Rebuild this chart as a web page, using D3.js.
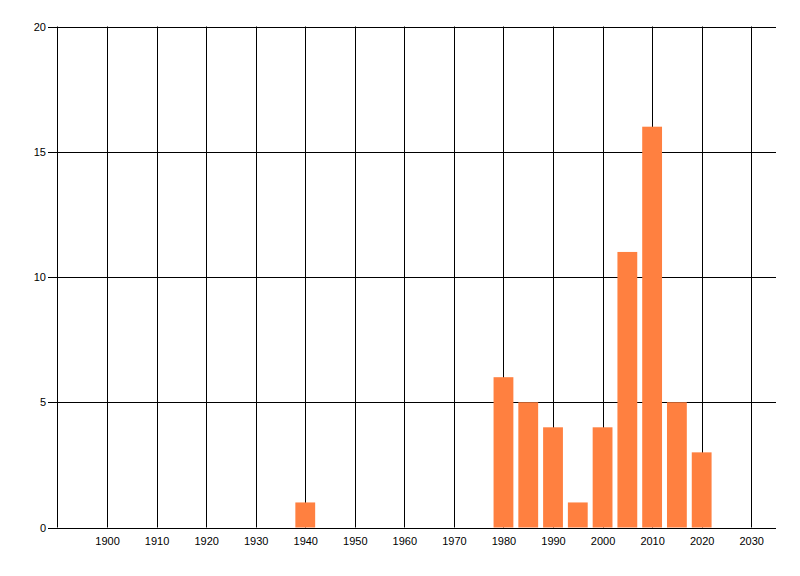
<!DOCTYPE html>
<html><head><meta charset="utf-8">
<script src="https://cdn.jsdelivr.net/npm/d3@7"></script>
<style>body{margin:0;background:#fff}svg{display:block}</style>
</head><body>
<svg id="c" width="800" height="576"></svg>
<script>
const years = [1940, 1980, 1985, 1990, 1995, 2000, 2005, 2010, 2015, 2020];
const counts = [1, 6, 5, 4, 1, 4, 11, 16, 5, 3];
const xTicks = [1900, 1910, 1920, 1930, 1940, 1950, 1960, 1970, 1980, 1990, 2000, 2010, 2020, 2030];
const yTicks = [0, 5, 10, 15, 20];

(function () {
const svg = d3.select("#c");
const mLeft = 57.5, mRight = 776, mTop = 26.5, mBottom = 527.5;
const x = d3.scaleLinear().domain([1890, 2035]).range([mLeft, mRight]);
const y = d3.scaleLinear().domain([0, 20]).range([mBottom, mTop]);
const barW = 4;
const font = "'Liberation Sans', Arial, sans-serif";

svg.append("g").selectAll("line").data(yTicks).join("line")
  .attr("x1", 48).attr("x2", mRight)
  .attr("y1", d => Math.round(y(d)) + 0.5).attr("y2", d => Math.round(y(d)) + 0.5)
  .attr("stroke", "#000").attr("stroke-width", 1);

svg.append("g").selectAll("line").data(xTicks).join("line")
  .attr("x1", d => Math.round(x(d)) + 0.5).attr("x2", d => Math.round(x(d)) + 0.5)
  .attr("y1", mTop).attr("y2", mBottom)
  .attr("stroke", "#000").attr("stroke-width", 1);

svg.append("line").attr("x1", mLeft).attr("x2", mLeft).attr("y1", mTop).attr("y2", mBottom)
  .attr("stroke", "#000");

svg.append("g").selectAll("rect").data(years.map((yr, i) => ({yr, v: counts[i]}))).join("rect")
  .attr("x", d => x(d.yr - barW / 2))
  .attr("width", d => x(d.yr + barW / 2) - x(d.yr - barW / 2))
  .attr("y", d => y(d.v))
  .attr("height", d => y(0) - y(d.v))
  .attr("fill", "#FF8040");

svg.append("line").attr("x1", 48).attr("x2", mRight)
  .attr("y1", Math.round(y(0)) + 0.5).attr("y2", Math.round(y(0)) + 0.5).attr("stroke", "#000");

svg.append("g").selectAll("text").data(yTicks).join("text")
  .attr("x", 46).attr("y", d => y(d) + 4)
  .attr("text-anchor", "end")
  .attr("font-family", font).attr("font-size", 11).attr("fill", "#000")
  .text(d => d);

svg.append("g").selectAll("text").data(xTicks).join("text")
  .attr("x", d => x(d) + 0.5).attr("y", 545)
  .attr("text-anchor", "middle")
  .attr("font-family", font).attr("font-size", 11).attr("fill", "#000")
  .text(d => d);
})();
</script>
</body></html>
